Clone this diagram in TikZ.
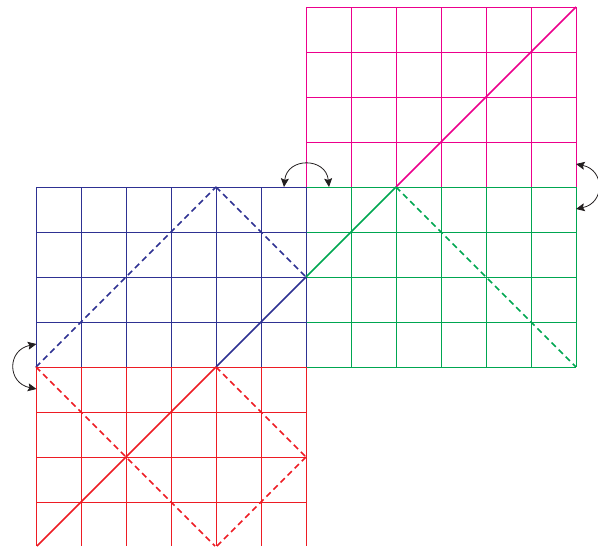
\documentclass[tikz,border=0pt]{standalone}
\usetikzlibrary{arrows.meta}
\definecolor{cblue}{RGB}{46,49,146}
\definecolor{cpink}{RGB}{236,0,140}
\definecolor{cgreen}{RGB}{0,166,81}
\definecolor{cred}{RGB}{237,28,36}
\definecolor{cdark}{RGB}{35,31,32}
\tikzset{
  gridline/.style={line width=0.75pt},
  diagsolid/.style={line width=1.15pt},
  diagdash/.style={line width=1.15pt,dash pattern=on 4.5pt off 3pt},
  swaparrow/.style={line width=0.6pt,color=cdark,{Stealth[length=6.5pt,width=6pt,inset=1.2pt]}-{Stealth[length=6.5pt,width=6pt,inset=1.2pt]}}
}
\begin{document}
\begin{tikzpicture}[x=0.75pt,y=-0.75pt]
\useasboundingbox (0,0) rectangle (598,546);
% pink
\foreach \x in {306,351,...,576} \draw[gridline,cpink] (\x,7) -- (\x,187);
\foreach \y in {7,52,97,142} \draw[gridline,cpink] (306,\y) -- (576,\y);
% green
\foreach \x in {306,351,...,576} \draw[gridline,cgreen] (\x,187) -- (\x,367);
\foreach \y in {187,232,277,322,367} \draw[gridline,cgreen] (306,\y) -- (576,\y);
% blue
\foreach \x in {36,81,...,306} \draw[gridline,cblue] (\x,187) -- (\x,367);
\foreach \y in {187,232,277,322} \draw[gridline,cblue] (36,\y) -- (306,\y);
% red
\foreach \x in {36,81,...,306} \draw[gridline,cred] (\x,367) -- (\x,546);
\foreach \y in {367,412,457,502} \draw[gridline,cred] (36,\y) -- (306,\y);
% diagonals
\draw[diagsolid,cpink] (396,187) -- (576,7);
\draw[diagsolid,cgreen] (306,277) -- (396,187);
\draw[diagdash,cgreen] (396,187) -- (576,367);
\draw[diagsolid,cblue] (216,367) -- (306,277);
\draw[diagdash,cblue] (36,367) -- (216,187);
\draw[diagdash,cblue] (216,187) -- (306,277);
\draw[diagsolid,cred] (37,546) -- (216,367);
\draw[diagdash,cred] (36,367) -- (215,546);
\draw[diagdash,cred] (216,367) -- (306,457);
\draw[diagdash,cred] (306,457) -- (217,546);
% swap arrows
\coordinate (la) at (36.5,344);
\coordinate (lb) at (36.5,389);
\coordinate (ta) at (284,187);
\coordinate (tb) at (329,187);
\coordinate (ra) at (576,164);
\coordinate (rb) at (576,209);
\draw[swaparrow] (la) .. controls (7,350) and (7,383) .. (lb);
\draw[swaparrow] (ta) .. controls (287,157) and (326,157) .. (tb);
\draw[swaparrow] (ra) .. controls (605,170) and (605,203) .. (rb);
\end{tikzpicture}
\end{document}
